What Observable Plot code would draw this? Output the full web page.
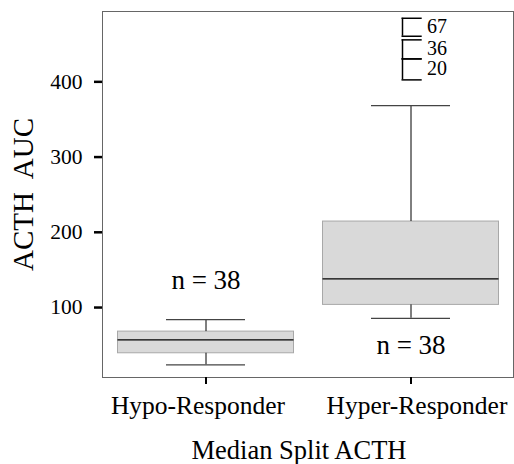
<!DOCTYPE html>
<html>
<head>
<meta charset="utf-8">
<script src="https://cdn.jsdelivr.net/npm/d3@7"></script>
<script src="https://cdn.jsdelivr.net/npm/@observablehq/plot@0.6"></script>
<style>
  html, body { margin: 0; padding: 0; background: #fff; }
  #chart svg { display: block; }
</style>
</head>
<body>
<div id="chart"></div>
<script>
// ACTH AUC by median-split responder group (box plot summary)
const groups = ["Hypo-Responder", "Hyper-Responder"];
const whiskerLow = [23.8, 85.7];
const quartile1 = [39.2, 103.5];
const median = [57.0, 138.1];
const quartile3 = [68.0, 214.3];
const whiskerHigh = [84.0, 368.5];
const counts = [38, 38];

// Extreme cases of the Hyper-Responder group, each drawn as an open bracket
const outlierGroup = "Hyper-Responder";
const outlierCases = ["67", "36", "20"];
const outlierTop = [484.5, 455.8, 430.5];
const outlierBottom = [460.6, 430.5, 402.6];

const yTicks = [100, 200, 300, 400];

const boxes = groups.map((g, i) => ({
  group: g,
  lo: whiskerLow[i],
  q1: quartile1[i],
  med: median[i],
  q3: quartile3[i],
  hi: whiskerHigh[i],
  n: counts[i]
}));
const outliers = outlierCases.map((c, i) => ({
  group: outlierGroup,
  label: c,
  top: outlierTop[i],
  bottom: outlierBottom[i],
  mid: (outlierTop[i] + outlierBottom[i]) / 2
}));

const serif = "'Liberation Serif', 'Times New Roman', serif";

// category labels under the axis, each nudged a little as in the original layout
const categoryLabel = (g, dx) => Plot.text([g], {
  x: d => d, frameAnchor: "bottom", lineAnchor: "top", textAnchor: "middle",
  dy: 18, dx, fontSize: 25.5, fill: "#000"
});

const chart = Plot.plot({
  width: 514,
  height: 464,
  marginLeft: 102,
  marginTop: 11,
  marginRight: 1,
  marginBottom: 87,
  style: { fontFamily: serif, color: "#000", background: "#fff" },
  x: { type: "band", domain: groups, padding: 0 },
  y: { domain: [7, 493.5] },
  marks: [
    // boxes
    Plot.barY(boxes, {
      x: "group", y1: "q1", y2: "q3",
      fill: "#d9d9d9", stroke: "#a8a8a8", strokeWidth: 1,
      insetLeft: 14.5, insetRight: 14.5
    }),
    // whiskers
    Plot.ruleX(boxes, { x: "group", y1: "q3", y2: "hi", stroke: "#000", strokeWidth: 1 }),
    Plot.ruleX(boxes, { x: "group", y1: "lo", y2: "q1", stroke: "#000", strokeWidth: 1 }),
    Plot.tickY(boxes, { x: "group", y: "hi", stroke: "#444", strokeWidth: 1.2, insetLeft: 63, insetRight: 63 }),
    Plot.tickY(boxes, { x: "group", y: "lo", stroke: "#444", strokeWidth: 1.2, insetLeft: 63, insetRight: 63 }),
    // medians
    Plot.tickY(boxes, { x: "group", y: "med", stroke: "#000", strokeWidth: 1.2, insetLeft: 14.5, insetRight: 14.5 }),
    // outlier brackets
    Plot.ruleX(outliers, { x: "group", y1: "top", y2: "bottom", dx: -8.5, stroke: "#000", strokeWidth: 1.5 }),
    Plot.tickY(outliers, { x: "group", y: "top", stroke: "#000", strokeWidth: 1.5, insetLeft: 93.5, insetRight: 91.3 }),
    Plot.tickY(outliers, { x: "group", y: "bottom", stroke: "#000", strokeWidth: 1.5, insetLeft: 93.5, insetRight: 91.3 }),
    Plot.text(outliers, {
      x: "group", y: "mid", text: "label", dx: 16, dy: -1,
      textAnchor: "start", fontSize: 20, fill: "#000"
    }),
    // group sizes
    Plot.text(boxes.filter(d => d.group === "Hypo-Responder"), {
      x: "group", y: "hi", text: d => `n = ${d.n}`, dy: -39, fontSize: 27, fill: "#000"
    }),
    Plot.text(boxes.filter(d => d.group === "Hyper-Responder"), {
      x: "group", y: "lo", text: d => `n = ${d.n}`, dy: 27, fontSize: 27, fill: "#000"
    }),
    // frame
    Plot.frame({ stroke: "#666", strokeWidth: 1 }),
    // axes: tick marks from the axis, labels as text so the size is exact
    Plot.axisY({ ticks: yTicks, tickSize: 8, strokeWidth: 2.5, tickFormat: () => "", label: null }),
    Plot.text(yTicks, {
      y: d => d, text: d => String(d), frameAnchor: "left", textAnchor: "end",
      dx: -20, fontSize: 21.5, fill: "#000"
    }),
    Plot.axisX({ tickSize: 7, strokeWidth: 2, tickFormat: () => "", label: null }),
    categoryLabel("Hypo-Responder", -8),
    categoryLabel("Hyper-Responder", 6),
    // axis titles
    Plot.text(["ACTH  AUC"], {
      frameAnchor: "left", textAnchor: "middle", rotate: -90, dx: -79, fontSize: 29, fill: "#000"
    }),
    Plot.text(["Median Split ACTH"], {
      frameAnchor: "bottom", lineAnchor: "bottom", dy: 81, dx: -9, fontSize: 26.5, fill: "#000"
    })
  ]
});

document.getElementById("chart").appendChild(chart);
</script>
</body>
</html>
